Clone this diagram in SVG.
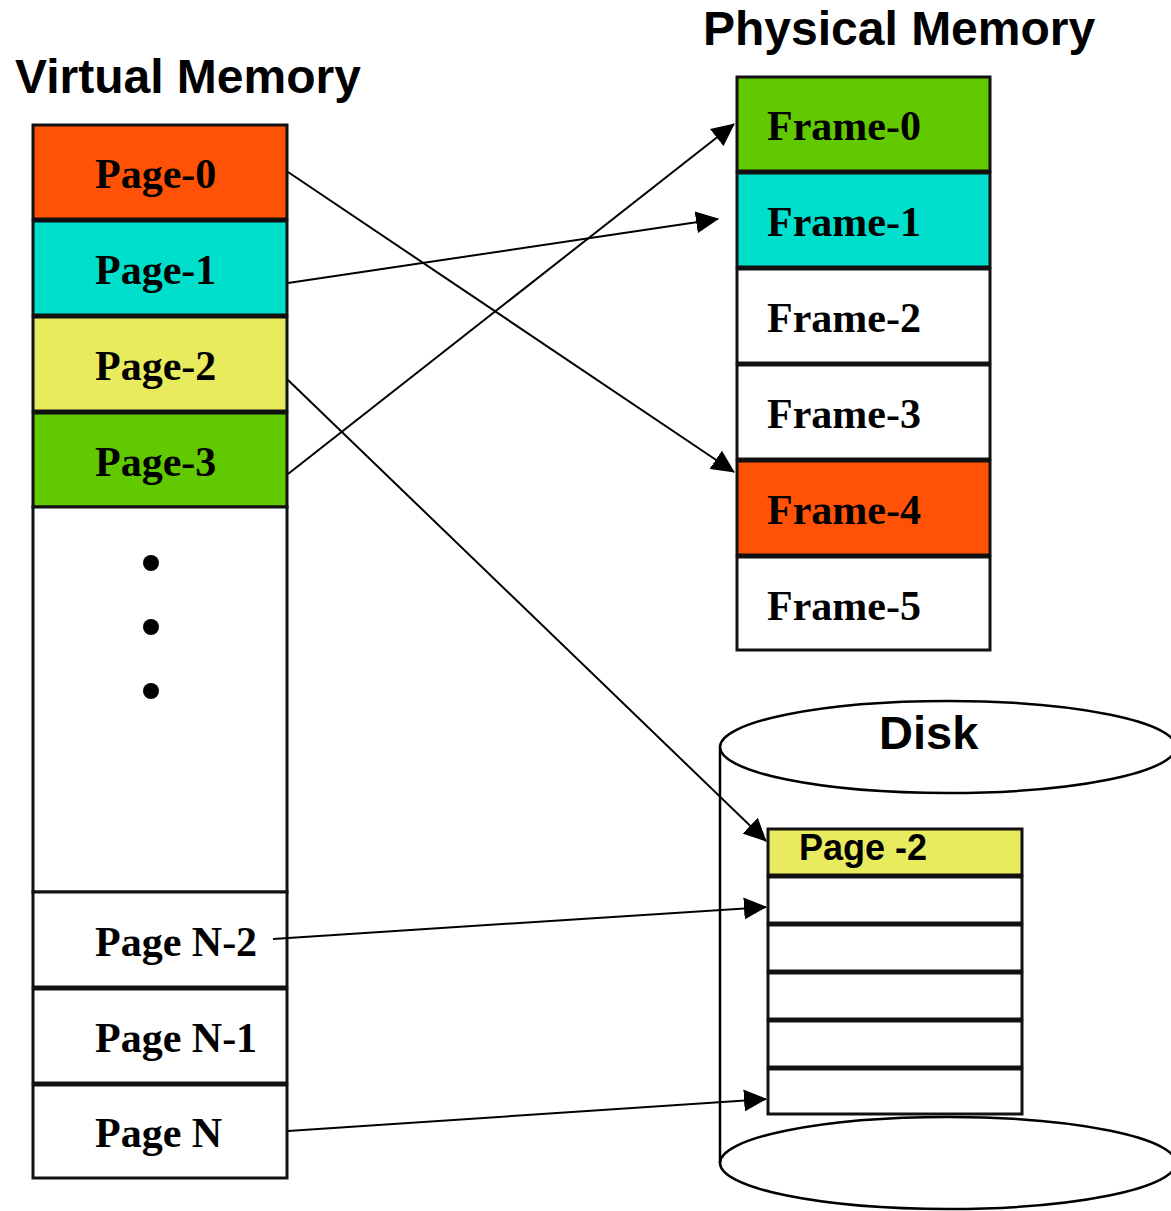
<svg xmlns="http://www.w3.org/2000/svg" width="1171" height="1211" viewBox="0 0 1171 1211">
<style>
.cell{stroke:#111;stroke-width:3}
.tnr{font-family:"Liberation Serif","Times New Roman",serif;font-weight:bold;font-size:42px;fill:#000}
.ar{font-family:"Liberation Sans",Arial,sans-serif;font-weight:bold;fill:#000}
.conn{stroke:#000;stroke-width:2;fill:none}
.disk{stroke:#000;stroke-width:2.5;fill:#fff}
</style>
<defs>
<marker id="ah" markerUnits="userSpaceOnUse" markerWidth="24" markerHeight="22" viewBox="0 0 24 22" refX="22" refY="11" orient="auto">
<path d="M0,0 L23,11 L0,22 z" fill="#000"/>
</marker>
</defs>
<rect width="1171" height="1211" fill="#fff"/>

<text class="ar" x="15" y="93" font-size="48">Virtual Memory</text>
<text class="ar" x="703" y="45" font-size="48">Physical Memory</text>

<g id="disk">
<rect x="720" y="747" width="456" height="416" fill="#fff"/>
<ellipse class="disk" cx="948" cy="1163" rx="228" ry="46"/>
<line x1="720" y1="747" x2="720" y2="1163" stroke="#000" stroke-width="2.5"/>
<ellipse class="disk" cx="948" cy="747" rx="228" ry="46"/>
<text class="ar" x="879" y="749" font-size="47">Disk</text>
</g>

<g id="virtual-memory">
<g id="page-0"><rect class="cell" x="33" y="125" width="254" height="94" fill="#FF5206"/><text class="tnr" x="95" y="188">Page-0</text></g>
<g id="page-1"><rect class="cell" x="33" y="221" width="254" height="94" fill="#00DFCC"/><text class="tnr" x="95" y="284">Page-1</text></g>
<g id="page-2"><rect class="cell" x="33" y="317" width="254" height="94" fill="#E9EB5E"/><text class="tnr" x="95" y="380">Page-2</text></g>
<g id="page-3"><rect class="cell" x="33" y="413" width="254" height="94" fill="#62C800"/><text class="tnr" x="95" y="476">Page-3</text></g>
<g id="gap"><rect class="cell" x="33" y="507" width="254" height="385" fill="#fff"/>
<circle cx="151" cy="563" r="8" fill="#000"/><circle cx="151" cy="627" r="8" fill="#000"/><circle cx="151" cy="691" r="8" fill="#000"/></g>
<g id="page-n-2"><rect class="cell" x="33" y="892" width="254" height="95" fill="#fff"/><text class="tnr" x="95" y="956">Page N-2</text></g>
<g id="page-n-1"><rect class="cell" x="33" y="989" width="254" height="94" fill="#fff"/><text class="tnr" x="95" y="1052">Page N-1</text></g>
<g id="page-n"><rect class="cell" x="33" y="1085" width="254" height="93" fill="#fff"/><text class="tnr" x="95" y="1147">Page N</text></g>
</g>

<g id="physical-memory">
<g id="frame-0"><rect class="cell" x="737" y="77" width="253" height="94" fill="#62C800"/><text class="tnr" x="767" y="140">Frame-0</text></g>
<g id="frame-1"><rect class="cell" x="737" y="173" width="253" height="94" fill="#00DFCC"/><text class="tnr" x="767" y="236">Frame-1</text></g>
<g id="frame-2"><rect class="cell" x="737" y="269" width="253" height="94" fill="#fff"/><text class="tnr" x="767" y="332">Frame-2</text></g>
<g id="frame-3"><rect class="cell" x="737" y="365" width="253" height="94" fill="#fff"/><text class="tnr" x="767" y="428">Frame-3</text></g>
<g id="frame-4"><rect class="cell" x="737" y="461" width="253" height="94" fill="#FF5206"/><text class="tnr" x="767" y="524">Frame-4</text></g>
<g id="frame-5"><rect class="cell" x="737" y="557" width="253" height="93" fill="#fff"/><text class="tnr" x="767" y="620">Frame-5</text></g>
</g>

<g id="disk-slots">
<g id="slot-page-2"><rect class="cell" x="768" y="829" width="254" height="46" fill="#E9EB5E"/><text class="ar" x="799" y="860" font-size="36">Page -2</text></g>
<g id="slot-1"><rect class="cell" x="768" y="877" width="254" height="46" fill="#fff"/></g>
<g id="slot-2"><rect class="cell" x="768" y="925" width="254" height="46" fill="#fff"/></g>
<g id="slot-3"><rect class="cell" x="768" y="973" width="254" height="46" fill="#fff"/></g>
<g id="slot-4"><rect class="cell" x="768" y="1021" width="254" height="46" fill="#fff"/></g>
<g id="slot-5"><rect class="cell" x="768" y="1069" width="254" height="45" fill="#fff"/></g>
</g>

<g id="connectors">
<line class="conn" x1="288" y1="172" x2="734" y2="472" marker-end="url(#ah)"/>
<line class="conn" x1="288" y1="283" x2="718" y2="219" marker-end="url(#ah)"/>
<line class="conn" x1="288" y1="380" x2="766" y2="841" marker-end="url(#ah)"/>
<line class="conn" x1="288" y1="474" x2="734" y2="124" marker-end="url(#ah)"/>
<line class="conn" x1="273" y1="939" x2="766" y2="907" marker-end="url(#ah)"/>
<line class="conn" x1="288" y1="1131" x2="766" y2="1099" marker-end="url(#ah)"/>
</g>
</svg>
